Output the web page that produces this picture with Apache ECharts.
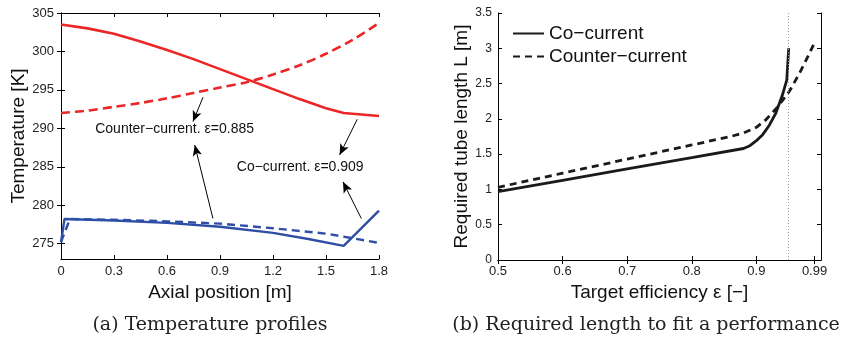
<!DOCTYPE html>
<html>
<head>
<meta charset="utf-8">
<script src="https://cdn.jsdelivr.net/npm/echarts@6/dist/echarts.min.js"></script>
<style>
html,body{margin:0;padding:0;background:#fff;}
#c{width:848px;height:340px;}
</style>
</head>
<body>
<div id="c"></div>
<script>
// ---- Panel (a): temperature profiles ----
const hotCo = [[0,303.5],[0.15,303.0],[0.3,302.3],[0.45,301.3],[0.6,300.2],[0.75,299.0],[0.9,297.7],[1.05,296.4],[1.2,295.1],[1.35,293.8],[1.5,292.6],[1.6,292.0],[1.7,291.8],[1.8,291.6]];
const hotCounter = [[0,292.0],[0.15,292.3],[0.3,292.8],[0.45,293.3],[0.6,293.9],[0.75,294.6],[0.9,295.3],[1.05,296.0],[1.2,297.0],[1.35,298.2],[1.5,299.7],[1.65,301.5],[1.8,303.7]];
const coldCo = [[0,275.2],[0.02,278.2],[0.3,278.0],[0.6,277.7],[0.9,277.2],[1.2,276.4],[1.4,275.6],[1.6,274.7],[1.8,279.3]];
const coldCounter = [[0,275.2],[0.05,278.2],[0.3,278.1],[0.6,277.9],[0.9,277.6],[1.2,277.0],[1.5,276.3],[1.8,275.1]];
const xTicksA = [0,0.3,0.6,0.9,1.2,1.5,1.8];
const yTicksA = [275,280,285,290,295,300,305];
const annotTexts = ['Counter\u2212current. \u03b5=0.885','Co\u2212current. \u03b5=0.909'];
const annotPos = [[0.643,289.9],[1.354,285.0]];
const arrows = [
  [[0.804,294.05],[0.747,290.87]],
  [[0.860,278.27],[0.757,287.83]],
  [[1.677,291.18],[1.577,286.53]],
  [[1.700,278.27],[1.596,283.04]]
];
// ---- Panel (b): required length ----
const lenCo = [[0.5,0.97],[0.6,1.13],[0.7,1.29],[0.8,1.45],[0.88,1.58],[0.89,1.62],[0.9,1.69],[0.91,1.78],[0.92,1.91],[0.93,2.08],[0.94,2.33],[0.947,2.55],[0.95,3.0]];
const lenCounter = [[0.5,1.03],[0.6,1.23],[0.7,1.43],[0.8,1.63],[0.86,1.75],[0.88,1.80],[0.9,1.88],[0.915,1.99],[0.933,2.17],[0.951,2.39],[0.967,2.65],[0.98,2.89],[0.99,3.08]];
const xTicksB = [0.5,0.6,0.7,0.8,0.9,0.99];
const limitEff = 0.95;
const legendNames = ['Co\u2212current','Counter\u2212current'];
const captions = ['(a) Temperature profiles','(b) Required length to fit a performance'];

const RED = '#ec2626', BLUE = '#2f4fa6', INK = '#1a1a1a';
const tickLab = {color:'#222', fontSize:13, fontFamily:'Liberation Sans, Arial, sans-serif'};
const nameStyle = {color:'#111', fontSize:19, fontFamily:'Liberation Sans, Arial, sans-serif'};
const axLine = {show:true, lineStyle:{color:'#000', width:1}};

function fmt(v){ return String(+v.toFixed(2)); }

const chart = echarts.init(document.getElementById('c'), null, {renderer:'canvas'});
chart.setOption({
  animation:false,
  backgroundColor:'#fff',
  grid:[
    {left:61, right:469, top:13, bottom:81, containLabel:false},
    {left:498, right:27, top:13, bottom:80, containLabel:false}
  ],
  legend:{
    data:legendNames, orient:'vertical', left:507, top:19, itemWidth:31, itemHeight:14, itemGap:4,
    itemStyle:{opacity:0, color:'transparent', borderColor:'transparent', borderWidth:0},
    textStyle:{color:'#111', fontSize:19, fontFamily:'Liberation Sans, Arial, sans-serif'},
    selectedMode:false
  },
  xAxis:[
    {type:'value', gridIndex:0, min:0, max:1.8, position:'bottom',
     name:'Axial position [m]', nameLocation:'middle', nameGap:19, nameTextStyle:nameStyle,
     axisLine:axLine, splitLine:{show:false},
     axisTick:{inside:true, length:4, customValues:xTicksA, lineStyle:{color:'#000'}},
     axisLabel:{customValues:xTicksA, formatter:fmt, margin:6, ...tickLab}},
    {type:'value', gridIndex:0, min:0, max:1.8, position:'top',
     axisLine:axLine, splitLine:{show:false}, axisLabel:{show:false},
     axisTick:{inside:true, length:4, customValues:xTicksA, lineStyle:{color:'#000'}}},
    {type:'value', gridIndex:1, min:0.5, max:1.0, position:'bottom',
     name:'Target efficiency \u03b5 [\u2212]', nameLocation:'middle', nameGap:19, nameTextStyle:nameStyle,
     axisLine:axLine, splitLine:{show:false},
     axisTick:{inside:true, length:4, customValues:xTicksB, lineStyle:{color:'#000'}},
     axisLabel:{customValues:xTicksB, formatter:fmt, margin:5, ...tickLab}},
    {type:'value', gridIndex:1, min:0.5, max:1.0, position:'top',
     axisLine:axLine, splitLine:{show:false}, axisLabel:{show:false},
     axisTick:{inside:true, length:4, customValues:xTicksB, lineStyle:{color:'#000'}}}
  ],
  yAxis:[
    {type:'value', gridIndex:0, min:273, max:305, position:'left',
     name:'Temperature [K]', nameLocation:'middle', nameGap:28, nameTextStyle:nameStyle,
     axisLine:axLine, splitLine:{show:false},
     axisTick:{inside:true, length:4, customValues:yTicksA, lineStyle:{color:'#000'}},
     axisLabel:{customValues:yTicksA, margin:7, ...tickLab}},
    {type:'value', gridIndex:0, min:273, max:305, position:'right',
     axisLine:axLine, splitLine:{show:false}, axisLabel:{show:false},
     axisTick:{inside:true, length:4, customValues:yTicksA, lineStyle:{color:'#000'}}},
    {type:'value', gridIndex:1, min:0, max:3.5, interval:0.5, position:'left',
     name:'Required tube length L [m]', nameLocation:'middle', nameGap:27, nameTextStyle:nameStyle,
     axisLine:axLine, splitLine:{show:false},
     axisTick:{inside:true, length:4, lineStyle:{color:'#000'}},
     axisLabel:{margin:6, ...tickLab, fontSize:12}},
    {type:'value', gridIndex:1, min:0, max:3.5, interval:0.5, position:'right',
     axisLine:axLine, splitLine:{show:false}, axisLabel:{show:false},
     axisTick:{inside:true, length:4, lineStyle:{color:'#000'}}}
  ],
  series:[
    {type:'line', xAxisIndex:0, yAxisIndex:0, data:hotCo, showSymbol:false, symbol:'none',
     lineStyle:{color:RED, width:2.6}, z:3},
    {type:'line', xAxisIndex:0, yAxisIndex:0, data:hotCounter, showSymbol:false, symbol:'none', smooth:0.3,
     lineStyle:{color:RED, width:2.6, type:[9,5]}, z:3},
    {type:'line', xAxisIndex:0, yAxisIndex:0, data:coldCo, showSymbol:false, symbol:'none',
     lineStyle:{color:BLUE, width:2.4}, z:3},
    {type:'line', xAxisIndex:0, yAxisIndex:0, data:coldCounter, showSymbol:false, symbol:'none',
     lineStyle:{color:BLUE, width:2.4, type:[8,5]}, z:3,
     markLine:{silent:true, symbol:['none','arrow'], symbolSize:[7,11], precision:3,
       label:{show:false}, lineStyle:{color:'#000', width:1, type:'solid'},
       data: arrows.map(a => [{coord:a[0]},{coord:a[1]}])},
     markPoint:{silent:true, symbol:'circle', symbolSize:0,
       label:{show:true, position:'inside', color:'#111', fontSize:14, fontFamily:'Liberation Sans, Arial, sans-serif',
         formatter:p => p.name},
       data: annotTexts.map((t,i) => ({name:t, coord:annotPos[i]}))}},
    {name:legendNames[0], type:'line', xAxisIndex:2, yAxisIndex:2, data:lenCo, showSymbol:false, symbol:'none',
     lineStyle:{color:INK, width:2.8}, itemStyle:{color:INK}, z:3,
     markLine:{silent:true, symbol:['none','none'], label:{show:false},
       lineStyle:{color:'#9a9a9a', width:1, type:[1,2]},
       data:[{xAxis:limitEff}]}},
    {name:legendNames[1], type:'line', xAxisIndex:2, yAxisIndex:2, data:lenCounter, showSymbol:false, symbol:'none',
     lineStyle:{color:INK, width:2.8, type:[7,5]}, itemStyle:{color:INK}, z:3}
  ],
  graphic:[
    {type:'text', silent:true, x:210, y:325,
     style:{text:captions[0], align:'center', verticalAlign:'middle',
       fill:'#222', font:'19px "DejaVu Serif", serif'}},
    {type:'text', silent:true, x:646, y:325,
     style:{text:captions[1], align:'center', verticalAlign:'middle',
       fill:'#222', font:'19px "DejaVu Serif", serif'}}
  ]
});
</script>
</body>
</html>
